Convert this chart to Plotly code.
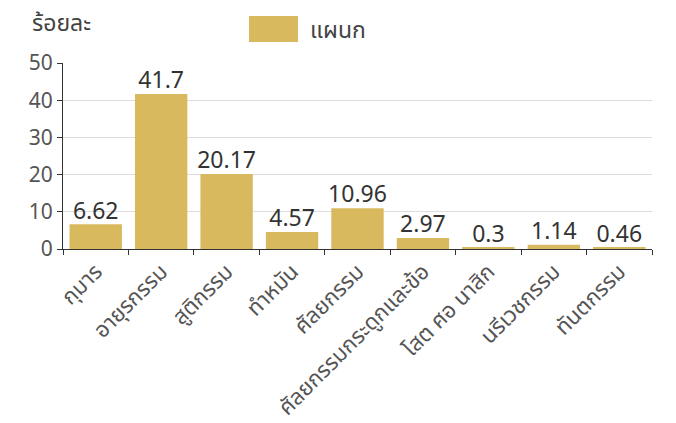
import plotly.graph_objects as go

categories = ["กุมาร", "อายุรกรรม", "สูติกรรม", "ทำหมัน", "ศัลยกรรม",
              "ศัลยกรรมกระดูกและข้อ", "โสต ศอ นาสิก", "นรีเวชกรรม", "ทันตกรรม"]
values = [6.62, 41.7, 20.17, 4.57, 10.96, 2.97, 0.3, 1.14, 0.46]
series_name = "แผนก"
y_title = "ร้อยละ"
y_ticks = [0, 10, 20, 30, 40, 50]

color = "#D8B95E"
font_family = "Noto Sans, Noto Sans Thai, DejaVu Sans, sans-serif"

L, R, T, B = 63, 24, 63, 174
W, H = 676, 423
pw, ph = W - L - R, H - T - B

def px(x):
    return (x - L) / pw

def py(y):
    return (H - B - y) / ph

fig = go.Figure()
fig.add_trace(go.Bar(
    x=categories, y=values, name=series_name,
    marker=dict(color=color, line=dict(width=0)),
    showlegend=False, hoverinfo="x+y",
))
fig.add_trace(go.Scatter(
    x=categories, y=values, mode="text",
    text=[str(v) for v in values], textposition="top center",
    textfont=dict(size=23, color="#333333"),
    cliponaxis=False, showlegend=False, hoverinfo="skip",
))

fig.update_layout(
    width=W, height=H,
    margin=dict(l=L, r=R, t=T, b=B, autoexpand=False),
    plot_bgcolor="white", paper_bgcolor="white",
    font=dict(family=font_family, color="#444444", size=14),
    bargap=0.2,
    xaxis=dict(
        type="category", tickangle=-45, tickson="boundaries",
        ticks="outside", ticklen=5, tickcolor="#333333",
        showline=True, linecolor="#333333", linewidth=1,
        showgrid=False, automargin=False,
        tickfont=dict(size=22, color="#555555"),
    ),
    yaxis=dict(
        range=[0, 50], tickvals=y_ticks, ticks="outside", ticklen=5,
        tickcolor="#333333", showline=True, linecolor="#333333", linewidth=1,
        showgrid=True, gridcolor="#DDDDDD", zeroline=False, automargin=False,
        tickfont=dict(size=21, color="#555555"),
    ),
    shapes=[dict(type="rect", xref="paper", yref="paper",
                 x0=px(249), x1=px(298), y0=py(42), y1=py(16),
                 fillcolor=color, line=dict(width=0))],
    annotations=[
        dict(text=series_name, xref="paper", yref="paper",
             x=px(308), y=py(29), xanchor="left", yanchor="middle",
             showarrow=False, font=dict(size=23, color="#444444")),
        dict(text=y_title, xref="paper", yref="paper",
             x=px(30), y=py(22), xanchor="left", yanchor="middle",
             showarrow=False, font=dict(size=23, color="#444444")),
    ],
)

fig.write_html("out.html", config={"displayModeBar": False},
               post_script="document.body.style.margin='0';")
